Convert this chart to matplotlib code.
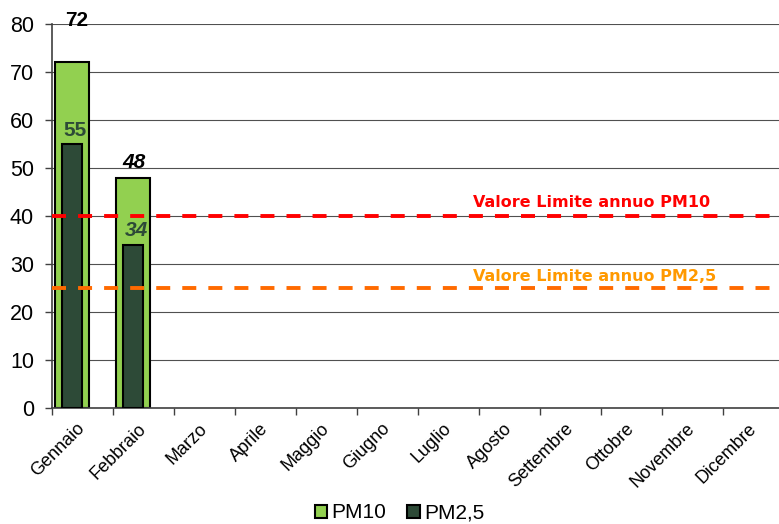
import numpy as np
import matplotlib
matplotlib.use("Agg")
import matplotlib.pyplot as plt
from matplotlib.patches import Patch

months = ["Gennaio", "Febbraio", "Marzo", "Aprile", "Maggio", "Giugno",
          "Luglio", "Agosto", "Settembre", "Ottobre", "Novembre", "Dicembre"]
pm10 = [72, 48]
pm25 = [55, 34]
limit_pm10 = 40
limit_pm25 = 25

c_pm10 = "#92d050"
c_pm25 = "#2d4a37"

plt.rcParams["font.family"] = ["Liberation Sans", "DejaVu Sans"]

fig = plt.figure(figsize=(7.79, 5.24), dpi=100)
ax = fig.add_axes([52 / 779, 116 / 524, 732 / 779, 384 / 524])

x10 = np.arange(len(pm10)) + 0.33
x25 = np.arange(len(pm25)) + 0.33
ax.bar(x10, pm10, width=0.55, color=c_pm10, edgecolor="black", lw=1.5, zorder=2)
ax.bar(x25, pm25, width=0.33, color=c_pm25, edgecolor="black", lw=1.5, zorder=3)

# value labels
ax.annotate(str(pm10[0]), (x10[0] + 0.08, pm10[0]), xytext=(0, 30), textcoords="offset points",
            ha="center", va="center", fontsize=15, fontweight="bold", color="black",
            annotation_clip=False, zorder=5)
ax.annotate(str(pm25[0]), (x25[0] + 0.04, pm25[0]), xytext=(0, 10), textcoords="offset points",
            ha="center", va="center", fontsize=15, fontweight="bold", color=c_pm25, zorder=5)
ax.annotate(str(pm10[1]), (x10[1] + 0.02, pm10[1]), xytext=(0, 11), textcoords="offset points",
            ha="center", va="center", fontsize=15, fontweight="bold", style="italic",
            color="black", zorder=5)
ax.annotate(str(pm25[1]), (x25[1] + 0.06, pm25[1]), xytext=(0, 10), textcoords="offset points",
            ha="center", va="center", fontsize=15, fontweight="bold", style="italic",
            color=c_pm25, zorder=5)

# limit lines
ax.axhline(limit_pm10, color="#ff0000", lw=2.8, dashes=(3.6, 3.1), zorder=4)
ax.axhline(limit_pm25, color="#ff6a00", lw=2.8, dashes=(3.6, 3.1), zorder=4)
ax.text(6.9, limit_pm10 + 2.8, "Valore Limite annuo PM10", color="#ff0000",
        fontsize=11.5, fontweight="bold", family="DejaVu Sans", va="center", ha="left")
ax.text(6.9, limit_pm25 + 2.4, "Valore Limite annuo PM2,5", color="#ff9900",
        fontsize=11.5, fontweight="bold", family="DejaVu Sans", va="center", ha="left")

ax.set_xlim(0, 12)
ax.set_ylim(0, 80)
ax.set_yticks(np.arange(0, 81, 10))
ax.yaxis.grid(True, color="#505050", lw=0.8, zorder=0)
ax.set_axisbelow(True)

ax.set_xticks(np.arange(0, 13))
ax.set_xticklabels([])
ax.set_xticks(np.arange(12) + 0.5, minor=True)
ax.set_xticklabels(months, minor=True, rotation=45, ha="right", rotation_mode="anchor",
                   va="center")
ax.tick_params(axis="x", which="major", length=5, width=1, color="#404040", direction="out")
ax.tick_params(axis="x", which="minor", length=0, pad=13, labelsize=13)
ax.tick_params(axis="y", length=5, width=1, color="#404040", labelsize=15.5, pad=8)

for s in ["top", "right"]:
    ax.spines[s].set_visible(False)
ax.spines["left"].set_color("#404040")
ax.spines["bottom"].set_color("#404040")
ax.spines["left"].set_linewidth(1.2)
ax.spines["bottom"].set_linewidth(1.2)

handles = [Patch(facecolor=c_pm10, edgecolor="black", lw=1.5, label="PM10"),
           Patch(facecolor=c_pm25, edgecolor="black", lw=1.5, label="PM2,5")]
fig.legend(handles=handles, loc="center", bbox_to_anchor=(0.513, 0.021), ncol=2,
           frameon=False, fontsize=15, handlelength=0.6, handleheight=0.6,
           handletextpad=0.2, columnspacing=1.0)

fig.savefig("out.png", dpi=100)
